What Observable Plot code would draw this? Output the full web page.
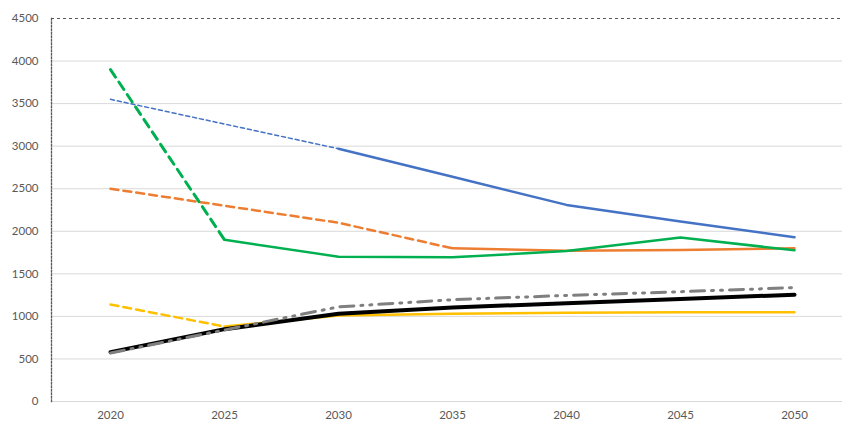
<!DOCTYPE html>
<html>
<head>
<meta charset="utf-8">
<script src="https://cdn.jsdelivr.net/npm/d3@7"></script>
<script src="https://cdn.jsdelivr.net/npm/@observablehq/plot@0.6"></script>
<style>
  html, body { margin: 0; padding: 0; background: #fff; }
  #chart svg { display: block; }
</style>
</head>
<body>
<div id="chart"></div>
<script>
// ---- Data ----
const years = [2020, 2025, 2030, 2035, 2040, 2045, 2050];
const yTicks = [0, 500, 1000, 1500, 2000, 2500, 3000, 3500, 4000, 4500];

const blueValues   = [3550, 3260, 2970, 2640, 2310, 2115, 1930];
const orangeValues = [2500, 2300, 2100, 1800, 1772, 1780, 1800];
const greenValues  = [3900, 1900, 1702, 1694, 1768, 1928, 1776];
const yellowValues = [1140, 880, 1010, 1030, 1042, 1048, 1049];
const blackValues  = [580, 850, 1030, 1105, 1155, 1205, 1255];
const greyValues   = [570, 840, 1112, 1196, 1246, 1290, 1338];

// index of the first year drawn as a solid line (earlier segments are dashed)
const blueSolidFrom = 2;
const orangeSolidFrom = 3;
const greenSolidFrom = 1;
const yellowSolidFrom = 1;

const rows = vals => years.map((y, i) => ({year: y, value: vals[i]}));
const dashedPart = (vals, k) => rows(vals).slice(0, k + 1);
const solidPart = (vals, k) => rows(vals).slice(k);

const font = "Lato, 'Open Sans', sans-serif";

const chart = Plot.plot({
  width: 842,
  height: 421,
  marginLeft: 51,
  marginRight: 0,
  marginTop: 18,
  marginBottom: 20,
  style: {fontFamily: font, fontSize: "11.5px", color: "#595959", background: "#fff", overflow: "hidden"},
  x: {type: "point", domain: years, range: [108, 795], padding: 0},
  y: {domain: [0, 4500]},
  marks: [
    // gridlines
    Plot.ruleY(yTicks.filter(t => t < 4500), {stroke: "#d9d9d9", strokeWidth: 1}),
    Plot.ruleY([4500], {stroke: "#595959", strokeWidth: 1, strokeDasharray: "3,3"}),
    Plot.frame({anchor: "left", stroke: "#595959", strokeWidth: 1.3, strokeDasharray: "1.5,2"}),
    Plot.axisY({ticks: yTicks, tickSize: 0, tickPadding: 13, tickFormat: d => String(d), label: null, fill: "#595959"}),
    Plot.axisX({ticks: years, tickSize: 0, tickPadding: 9, tickFormat: d => String(d), label: null, fill: "#595959"}),

    // blue
    Plot.line(dashedPart(blueValues, blueSolidFrom), {x: "year", y: "value", stroke: "#4472c4", strokeWidth: 1.5, strokeDasharray: "4,3"}),
    Plot.line(solidPart(blueValues, blueSolidFrom), {x: "year", y: "value", stroke: "#4472c4", strokeWidth: 2.5}),
    // orange
    Plot.line(dashedPart(orangeValues, orangeSolidFrom), {x: "year", y: "value", stroke: "#ed7d31", strokeWidth: 2.5, strokeDasharray: "8,5"}),
    Plot.line(solidPart(orangeValues, orangeSolidFrom), {x: "year", y: "value", stroke: "#ed7d31", strokeWidth: 2.5}),
    // green
    Plot.line(dashedPart(greenValues, greenSolidFrom), {x: "year", y: "value", stroke: "#00b050", strokeWidth: 3, strokeDasharray: "9,6"}),
    Plot.line(solidPart(greenValues, greenSolidFrom), {x: "year", y: "value", stroke: "#00b050", strokeWidth: 2.5}),
    // yellow
    Plot.line(dashedPart(yellowValues, yellowSolidFrom), {x: "year", y: "value", stroke: "#ffc000", strokeWidth: 2.5, strokeDasharray: "8,5"}),
    Plot.line(solidPart(yellowValues, yellowSolidFrom), {x: "year", y: "value", stroke: "#ffc000", strokeWidth: 2.5}),
    // black
    Plot.line(rows(blackValues), {x: "year", y: "value", stroke: "#000", strokeWidth: 4}),
    // grey long-dash-dot-dot
    Plot.line(rows(greyValues), {x: "year", y: "value", stroke: "#7f7f7f", strokeWidth: 3, strokeDasharray: "14,7,2,7,2,7"})
  ]
});

document.getElementById("chart").appendChild(chart);
</script>
</body>
</html>
